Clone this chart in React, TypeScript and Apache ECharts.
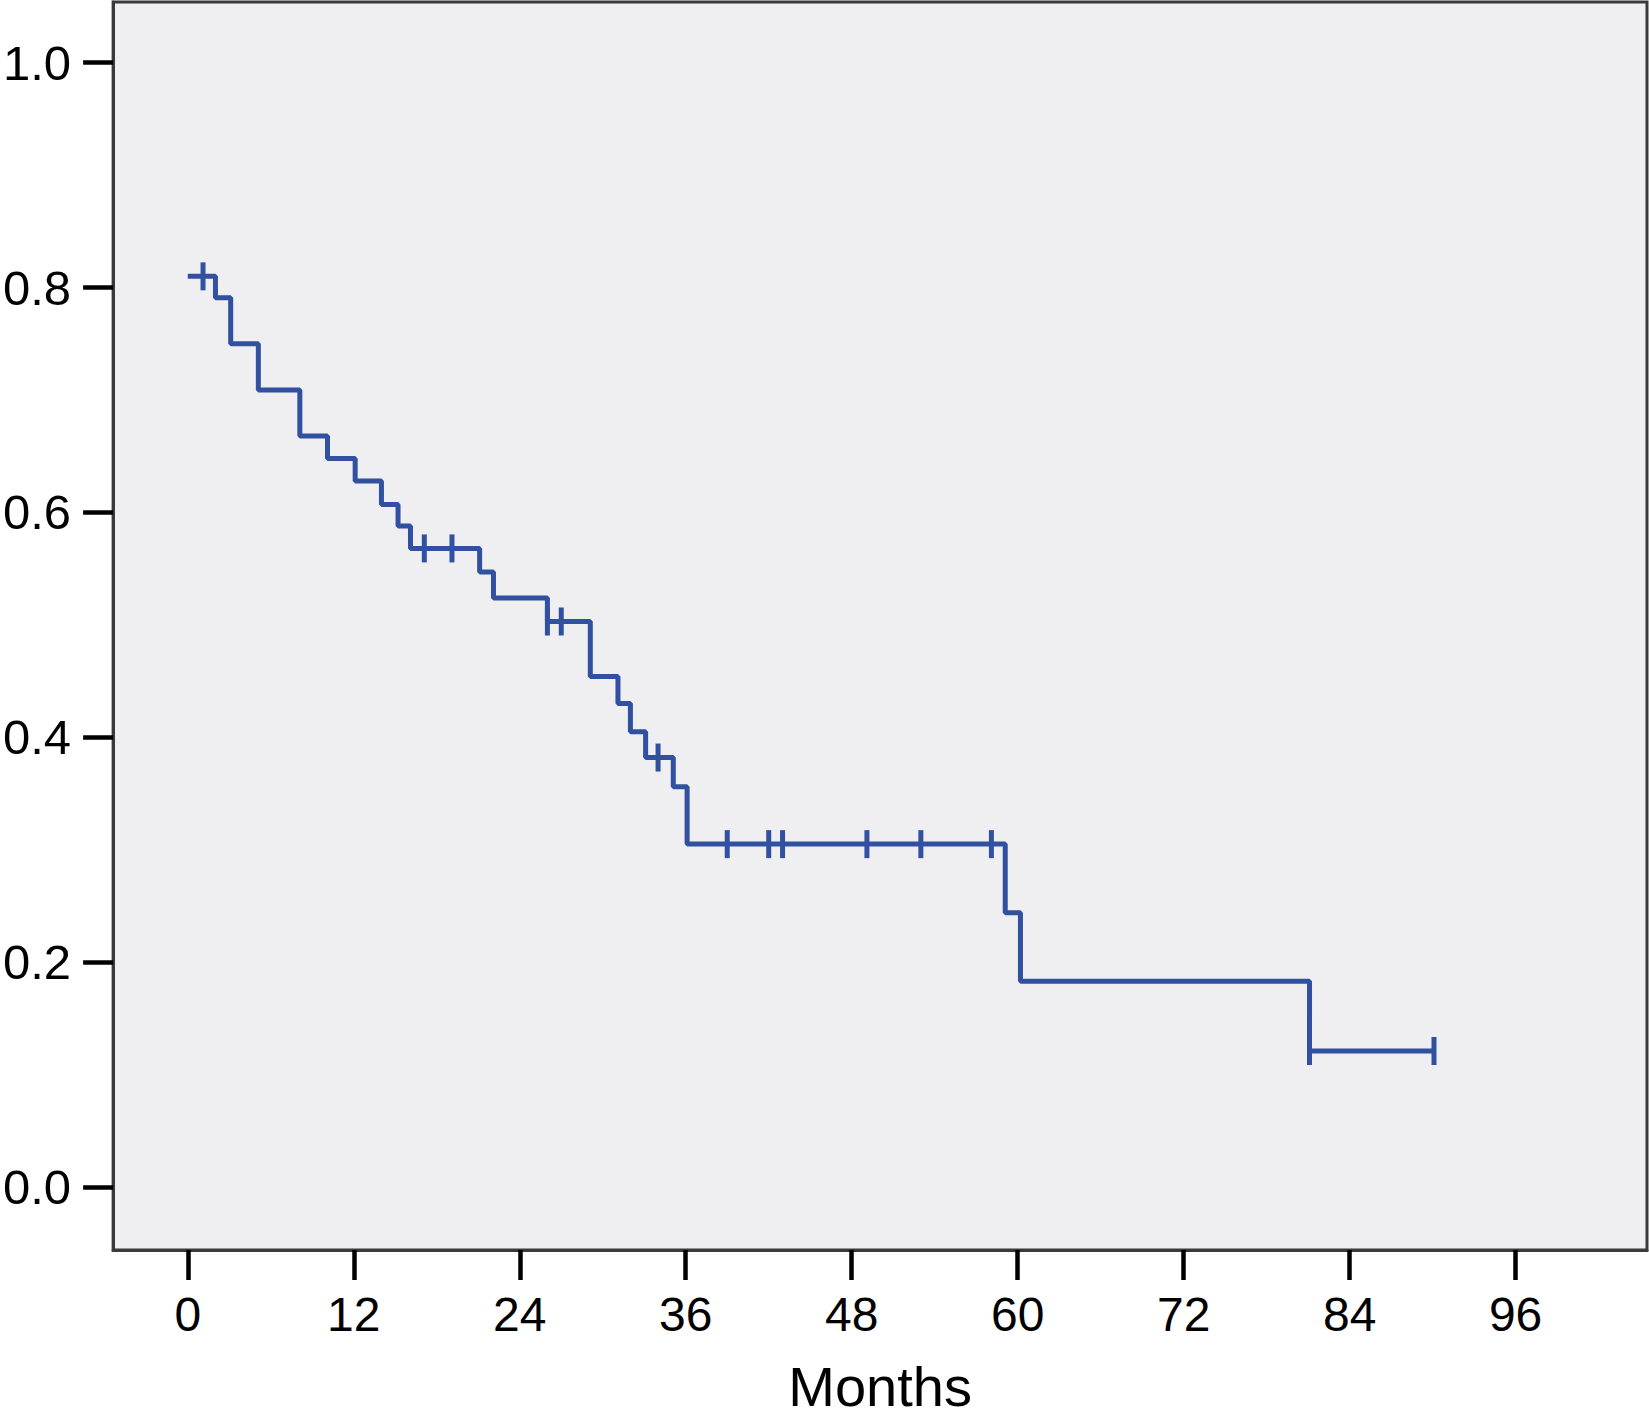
import React, { useEffect, useRef } from "react";
import * as echarts from "echarts";

// Kaplan–Meier step points: month of each drop and survival after it
const eventMonths = [0, 2.0, 3.1, 5.1, 8.1, 10.1, 12.1, 14.0, 15.2, 16.1, 21.1, 22.1, 26.0, 29.1, 31.1, 32.0, 33.1, 35.1, 36.1, 59.1, 60.2, 81.1, 90.1];
const eventSurvival = [0.81, 0.791, 0.75, 0.709, 0.668, 0.648, 0.628, 0.607, 0.588, 0.568, 0.547, 0.524, 0.503, 0.454, 0.43, 0.405, 0.382, 0.356, 0.305, 0.244, 0.183, 0.121, 0.121];

// Censored observations
const censorMonths = [1.1, 17.1, 19.1, 26.0, 27.0, 34.0, 39.0, 42.0, 43.0, 49.1, 53.0, 58.1, 81.1, 90.1];
const censorSurvival = [0.81, 0.568, 0.568, 0.503, 0.503, 0.382, 0.305, 0.305, 0.305, 0.305, 0.305, 0.305, 0.121, 0.121];

const xTickValues = [0, 12, 24, 36, 48, 60, 72, 84, 96];
const yTickValues = [0, 0.2, 0.4, 0.6, 0.8, 1.0];
const xAxisTitle = "Months";

const FONT = "'Liberation Sans', Arial, Helvetica, sans-serif";
const LINE_COLOR = "#3150a0";

export default function App() {
  const ref = useRef<HTMLDivElement>(null);

  useEffect(() => {
    if (!ref.current) return;
    const chart = echarts.init(ref.current, null, { renderer: "svg" });
    const lineData = eventMonths.map((m, i) => [m, eventSurvival[i]]);
    const censorData = censorMonths.map((m, i) => [m, censorSurvival[i]]);

    chart.setOption({
      animation: false,
      backgroundColor: "#ffffff",
      grid: {
        left: 107,
        top: 2,
        right: 2,
        bottom: 170,
        show: true,
        backgroundColor: "#efeff1",
        borderColor: "#3a3a3a",
        borderWidth: 3,
      },
      xAxis: {
        type: "value",
        min: -5.4,
        max: 105.5,
        splitLine: { show: false },
        axisLine: { show: true, onZero: false, lineStyle: { color: "#3a3a3a", width: 3 } },
        axisTick: {
          show: true,
          customValues: xTickValues,
          length: 30,
          lineStyle: { color: "#000000", width: 4.5 },
        },
        axisLabel: {
          customValues: xTickValues,
          margin: 40,
          fontSize: 48,
          color: "#000000",
          fontFamily: FONT,
        },
        name: xAxisTitle,
        nameLocation: "middle",
        nameGap: 108,
        nameTextStyle: { fontSize: 56, color: "#000000", fontFamily: FONT },
      },
      yAxis: {
        type: "value",
        min: -0.056,
        max: 1.054,
        splitLine: { show: false },
        axisLine: { show: true, onZero: false, lineStyle: { color: "#3a3a3a", width: 3 } },
        axisTick: {
          show: true,
          customValues: yTickValues,
          length: 30,
          lineStyle: { color: "#000000", width: 4.5 },
        },
        axisLabel: {
          customValues: yTickValues,
          margin: 42,
          fontSize: 49,
          color: "#000000",
          fontFamily: FONT,
          formatter: (v: number) => v.toFixed(1),
        },
      },
      series: [
        {
          type: "line",
          data: lineData,
          step: "end",
          showSymbol: false,
          lineStyle: { color: LINE_COLOR, width: 5 },
          silent: true,
        },
        {
          type: "scatter",
          data: censorData,
          symbol: "rect",
          symbolSize: [5, 28],
          itemStyle: { color: LINE_COLOR, opacity: 1 },
          silent: true,
        },
      ],
    });

    return () => chart.dispose();
  }, []);

  return (
    <div
      ref={ref}
      style={{ position: "absolute", left: 0, top: 0, width: 1649, height: 1420 }}
    />
  );
}
